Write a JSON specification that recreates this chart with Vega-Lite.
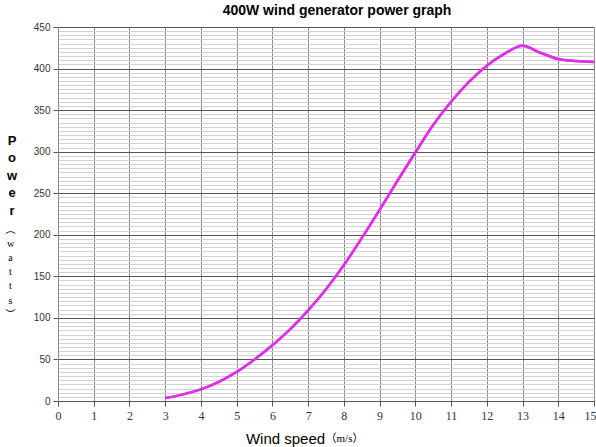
{
  "$schema": "https://vega.github.io/schema/vega-lite/v6.json",
  "autosize": {"type": "none"},
  "padding": {"left": 58, "top": 27, "right": 2, "bottom": 46},
  "width": 536,
  "height": 374,
  "background": "#ffffff",
  "config": {"view": {"stroke": null}},
  "title": {
    "text": "400W wind generator power graph",
    "font": "Liberation Sans",
    "fontSize": 14,
    "fontWeight": "bold",
    "color": "#000000",
    "anchor": "middle",
    "baseline": "alphabetic",
    "offset": -7,
    "dx": 11
  },
  "data": {
    "values": [
      {"speed": 3, "power": 3.5},
      {"speed": 3.5, "power": 8},
      {"speed": 4, "power": 14},
      {"speed": 4.5, "power": 23},
      {"speed": 5, "power": 35},
      {"speed": 5.5, "power": 50},
      {"speed": 6, "power": 67},
      {"speed": 6.5, "power": 86.5},
      {"speed": 7, "power": 109},
      {"speed": 7.5, "power": 134.5},
      {"speed": 8, "power": 163.5},
      {"speed": 8.5, "power": 196},
      {"speed": 9, "power": 230},
      {"speed": 9.5, "power": 265},
      {"speed": 10, "power": 299},
      {"speed": 10.5, "power": 332},
      {"speed": 11, "power": 360},
      {"speed": 11.5, "power": 384},
      {"speed": 12, "power": 403.5},
      {"speed": 12.5, "power": 418},
      {"speed": 13, "power": 427.5},
      {"speed": 13.5, "power": 419},
      {"speed": 14, "power": 411.5},
      {"speed": 14.5, "power": 409},
      {"speed": 15, "power": 408}
    ]
  },
  "resolve": {"scale": {"x": "shared", "y": "shared"}, "axis": {"x": "independent", "y": "independent"}},
  "layer": [
    {
      "mark": {"type": "line", "color": "#e030e6", "strokeWidth": 2.5, "interpolate": "monotone"},
      "encoding": {
        "x": {
          "field": "speed", "type": "quantitative",
          "scale": {"domain": [0, 15], "nice": false, "zero": false},
          "axis": {
            "orient": "bottom",
            "tickCount": 75,
            "format": "d",
            "labelExpr": "datum.value % 1 === 0 ? datum.label : ''",
            "labelOverlap": false,
            "labelFlush": false,
            "labelFont": "Liberation Serif",
            "labelFontSize": 12,
            "labelColor": "#333333",
            "labelPadding": 4,
            "labelOffset": {"condition": {"test": "datum.value === 15", "value": -4}, "value": 0},
            "tickSize": {"condition": {"test": "datum.value % 1 === 0", "value": 5}, "value": 0},
            "tickColor": "#555555",
            "tickWidth": 1,
            "domainColor": "#555555",
            "grid": true,
            "gridColor": {"condition": {"test": "datum.value % 1 === 0", "value": "#8c8c8c"}, "value": "#d2d2d2"},
            "gridWidth": 1,
            "gridOpacity": 1,
            "title": "Wind speed",
            "titleFont": "Liberation Sans",
            "titleFontSize": 15,
            "titleFontWeight": "normal",
            "titleColor": "#000000",
            "titleAlign": "center",
            "titleBaseline": "alphabetic",
            "titleX": 227,
            "titleY": 42
          }
        },
        "y": {
          "field": "power", "type": "quantitative",
          "scale": {"domain": [0, 450], "nice": false},
          "axis": {
            "orient": "left",
            "tickCount": 90,
            "labelExpr": "datum.value % 50 === 0 ? datum.label : ''",
            "labelOverlap": false,
            "labelFlush": false,
            "labelFont": "Liberation Sans",
            "labelFontSize": 10,
            "labelColor": "#333333",
            "labelPadding": 3,
            "tickSize": {"condition": {"test": "datum.value % 50 === 0", "value": 5}, "value": 0},
            "tickColor": "#555555",
            "domainColor": "#8c8c8c",
            "grid": true,
            "gridColor": {"condition": {"test": "datum.value % 50 === 0", "value": "#555555"}, "value": "#d2d2d2"},
            "gridWidth": 1,
            "gridOpacity": 1,
            "title": ["P", "o", "w", "e", "r"],
            "titleFont": "Liberation Sans",
            "titleFontSize": 13,
            "titleFontWeight": "bold",
            "titleColor": "#000000",
            "titleAngle": 0,
            "titleAlign": "center",
            "titleBaseline": "alphabetic",
            "titleLineHeight": 17.5,
            "titleX": -46.5,
            "titleY": 117
          }
        }
      }
    },
    {
      "mark": {"type": "line", "color": "#e030e6", "strokeWidth": 2.5, "interpolate": "monotone"},
      "encoding": {
        "x": {
          "field": "speed", "type": "quantitative",
          "axis": {
            "orient": "bottom",
            "labels": false, "ticks": false, "domain": false, "grid": false,
            "title": "（m/s）",
            "titleFont": "Liberation Serif, Noto Sans CJK SC",
            "titleFontSize": 11,
            "titleFontWeight": "normal",
            "titleColor": "#000000",
            "titleAlign": "center",
            "titleBaseline": "alphabetic",
            "titleX": 286,
            "titleY": 40
          }
        },
        "y": {
          "field": "power", "type": "quantitative",
          "axis": {
            "orient": "left",
            "labels": false, "ticks": false, "domain": false, "grid": false,
            "title": ["︵", "w", "a", "t", "t", "s", "︶"],
            "titleFont": "Liberation Serif, Noto Sans CJK SC",
            "titleFontSize": 10,
            "titleFontWeight": "normal",
            "titleColor": "#000000",
            "titleAngle": 0,
            "titleAlign": "center",
            "titleBaseline": "alphabetic",
            "titleLineHeight": 14.2,
            "titleX": -48,
            "titleY": 205
          }
        }
      }
    }
  ]
}
